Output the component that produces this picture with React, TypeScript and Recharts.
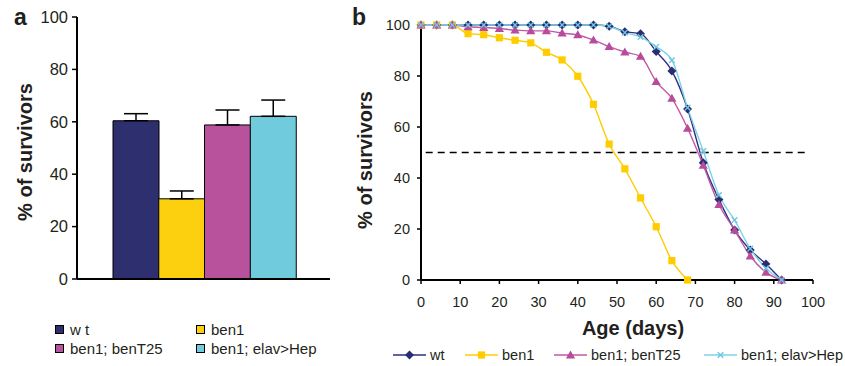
import React from 'react';
import {
  BarChart, Bar, Cell, ErrorBar, XAxis, YAxis, LineChart, Line, ReferenceLine,
} from 'recharts';

// ---------- Panel a data ----------
const barGroups = ['w t', 'ben1', 'ben1; benT25', 'ben1; elav>Hep'];
const barMeans = [60.4, 30.6, 58.8, 62.1];
const barErrors = [2.7, 3.0, 5.7, 6.2];
const barColors = ['#2E2F6E', '#FDD00F', '#B9529C', '#70CBDC'];

// ---------- Panel b data ----------
const days = [0, 4, 8, 12, 16, 20, 24, 28, 32, 36, 40, 44, 48, 52, 56, 60, 64, 68, 72, 76, 80, 84, 88, 92];
const wt = [100, 100, 100, 100, 100, 100, 100, 100, 100, 100, 100, 100, 99.5, 97.4, 96.6, 89.6, 82, 67.1, 46, 31.6, 19.6, 11.8, 6.3, 0];
const ben1 = [100, 100, 100, 96.6, 96.2, 95, 94, 93, 89.3, 86.3, 79.9, 68.9, 53.3, 43.6, 32.2, 20.9, 7.6, 0];
const benT25 = [100, 100, 100, 99.3, 99, 98.6, 98, 97.7, 97.7, 96.8, 96.1, 94.1, 91.5, 89.4, 87.7, 77.8, 71.2, 59.5, 45, 29.6, 19.6, 9.4, 3, 0];
const elavHep = [100, 100, 100, 100, 100, 100, 100, 100, 100, 100, 100, 100, 99.5, 97, 95.3, 91.4, 86.2, 67.6, 50.6, 33.3, 23.5, 12.3, 4.6, 0];
const xTicks = [0, 10, 20, 30, 40, 50, 60, 70, 80, 90, 100];
const yTicks = [0, 20, 40, 60, 80, 100];
const halfLine = 50;

const seriesDefs = [
  { key: 'wt', name: 'wt', values: wt, line: '#2E2F80', fill: '#2B2D72', shape: 'diamond' },
  { key: 'ben1', name: 'ben1', values: ben1, line: '#FFCC00', fill: '#FFCC00', shape: 'square' },
  { key: 'benT25', name: 'ben1; benT25', values: benT25, line: '#C257A6', fill: '#B84C9C', shape: 'triangle' },
  { key: 'elav', name: 'ben1; elav>Hep', values: elavHep, line: '#7CD2E6', fill: '#6CC6DE', shape: 'cross' },
];

const barData = barGroups.map((g, i) => ({
  group: g,
  mean: barMeans[i],
  err: [0, barErrors[i]],
}));

const lineData = days.map((d, i) => {
  const row: any = { day: d };
  seriesDefs.forEach((s) => {
    row[s.key] = i < s.values.length ? s.values[i] : null;
  });
  return row;
});

const FONT = "Arial, 'Liberation Sans', Helvetica, sans-serif";
const INK = '#231F20';

function Marker({ shape, cx, cy, fill }: { shape: string; cx: number; cy: number; fill: string }) {
  if (shape === 'diamond') {
    const r = 4.5;
    return <path d={`M${cx},${cy - r}L${cx + r},${cy}L${cx},${cy + r}L${cx - r},${cy}Z`} fill={fill} />;
  }
  if (shape === 'square') {
    const r = 3.6;
    return <rect x={cx - r} y={cy - r} width={2 * r} height={2 * r} fill={fill} />;
  }
  if (shape === 'triangle') {
    const w = 4.6;
    return <path d={`M${cx},${cy - 4.6}L${cx + w},${cy + 3.4}L${cx - w},${cy + 3.4}Z`} fill={fill} />;
  }
  const r = 2.8;
  return (
    <path d={`M${cx - r},${cy - r}L${cx + r},${cy + r}M${cx + r},${cy - r}L${cx - r},${cy + r}`} stroke={fill} strokeWidth={1.4} fill="none" />
  );
}

function makeDot(shape: string, fill: string) {
  return (props: any) => {
    const { cx, cy, index, value } = props;
    if (cx == null || cy == null || value == null) return <g key={`e-${index}`} />;
    return <g key={`d-${index}`}><Marker shape={shape} cx={cx} cy={cy} fill={fill} /></g>;
  };
}

export default function App() {
  return (
    <div style={{ position: 'absolute', left: 0, top: 0, width: 845, height: 366, background: '#fff', fontFamily: FONT, overflow: 'hidden' }}>
      {/* Panel letters */}
      <div style={{ position: 'absolute', left: 14, top: 4, fontSize: 23, fontWeight: 'bold', color: INK }}>a</div>
      <div style={{ position: 'absolute', left: 352, top: 4, fontSize: 23, fontWeight: 'bold', color: INK }}>b</div>

      {/* Panel a */}
      <div style={{ position: 'absolute', left: 0, top: 0 }}>
        <BarChart width={340} height={300} data={barData} margin={{ top: 17, right: 10, bottom: 0, left: 0 }} barCategoryGap={0}>
          <XAxis dataKey="group" tick={false} tickLine={false} height={21} padding={{ left: 36, right: 34 }} axisLine={{ stroke: '#000', strokeWidth: 2 }} />
          <YAxis
            width={77}
            domain={[0, 100]}
            ticks={yTicks}
            interval={0}
            tickSize={5}
            tickMargin={4}
            axisLine={{ stroke: '#000', strokeWidth: 2 }}
            tickLine={{ stroke: '#000', strokeWidth: 1.5 }}
            tick={{ fontSize: 16.5, fill: INK, fontFamily: FONT }}
            label={() => (
              <text x={25} y={152} transform="rotate(-90 25 152)" textAnchor="middle" dominantBaseline="central" fontSize={20} fontWeight="bold" fill={INK} fontFamily={FONT}>% of survivors</text>
            )}
          />
          <Bar dataKey="mean" isAnimationActive={false} stroke="#000" strokeWidth={1}>
            {barData.map((d, i) => (
              <Cell key={d.group} fill={barColors[i]} />
            ))}
            <ErrorBar dataKey="err" width={12} stroke="#000" strokeWidth={1.5} direction="y" />
          </Bar>
        </BarChart>
      </div>

      {/* Legend a */}
      {barGroups.map((g, i) => {
        const col = i % 2;
        const row = Math.floor(i / 2);
        return (
          <div key={g} style={{ position: 'absolute', left: col === 0 ? 55 : 196, top: 320 + row * 19, height: 18, display: 'flex', alignItems: 'center', fontSize: 15, color: INK, whiteSpace: 'pre' }}>
            <span style={{ display: 'inline-block', width: 7, height: 7, background: barColors[i], border: '1px solid #000', marginRight: 6 }} />
            <span>{g}</span>
          </div>
        );
      })}

      {/* Panel b */}
      <div style={{ position: 'absolute', left: 340, top: 0 }}>
        <LineChart width={505} height={366} data={lineData} margin={{ top: 25, right: 32, bottom: 0, left: 0 }}>
          <XAxis
            dataKey="day"
            type="number"
            domain={[0, 100]}
            ticks={xTicks}
            interval={0}
            height={86}
            tickSize={4}
            tickMargin={13}
            axisLine={{ stroke: '#000', strokeWidth: 2 }}
            tickLine={{ stroke: '#000', strokeWidth: 1.5 }}
            tick={{ fontSize: 14.5, fill: INK, fontFamily: FONT }}
            label={() => (
              <text x={293} y={328} textAnchor="middle" dominantBaseline="central" fontSize={20} fontWeight="bold" fill={INK} fontFamily={FONT}>Age (days)</text>
            )}
          />
          <YAxis
            width={81}
            domain={[0, 100]}
            ticks={yTicks}
            interval={0}
            tickSize={4}
            tickMargin={7}
            axisLine={{ stroke: '#000', strokeWidth: 2 }}
            tickLine={{ stroke: '#000', strokeWidth: 1.5 }}
            tick={{ fontSize: 14.5, fill: INK, fontFamily: FONT }}
            label={() => (
              <text x={25} y={160} transform="rotate(-90 25 160)" textAnchor="middle" dominantBaseline="central" fontSize={20} fontWeight="bold" fill={INK} fontFamily={FONT}>% of survivors</text>
            )}
          />
          <ReferenceLine segment={[{ x: 1.2, y: halfLine }, { x: 98.6, y: halfLine }]} stroke="#000" strokeWidth={1.6} strokeDasharray="7 5" />
          {seriesDefs.map((s) => (
            <Line
              key={s.key}
              dataKey={s.key}
              name={s.name}
              type="monotone"
              stroke={s.line}
              strokeWidth={1.4}
              dot={makeDot(s.shape, s.fill)}
              activeDot={false}
              isAnimationActive={false}
              connectNulls={false}
            />
          ))}
        </LineChart>
      </div>

      {/* Legend b */}
      {seriesDefs.map((s, i) => {
        const lefts = [393, 465, 554, 704];
        return (
          <div key={s.key} style={{ position: 'absolute', left: lefts[i], top: 346, height: 18, display: 'flex', alignItems: 'center', fontSize: 14.5, color: INK, whiteSpace: 'pre' }}>
            <svg width={33} height={12} style={{ marginRight: 4 }}>
              <line x1={0} y1={6} x2={33} y2={6} stroke={s.line} strokeWidth={1.4} />
              <Marker shape={s.shape} cx={16.5} cy={6} fill={s.fill} />
            </svg>
            <span>{s.name}</span>
          </div>
        );
      })}
    </div>
  );
}
